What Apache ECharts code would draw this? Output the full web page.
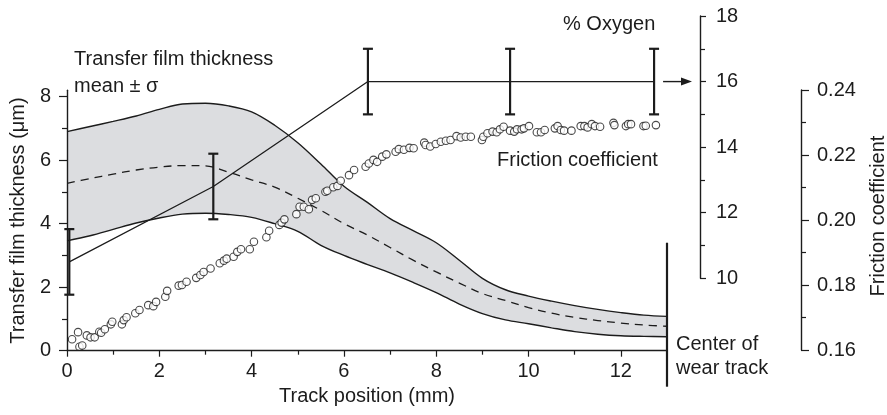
<!DOCTYPE html>
<html>
<head>
<meta charset="utf-8">
<script src="https://cdn.jsdelivr.net/npm/echarts@6/dist/echarts.min.js"></script>
<style>
  html, body { margin: 0; padding: 0; background: #fff; }
  #chart { width: 887px; height: 415px; }
</style>
</head>
<body>
<div id="chart"></div>
<script>
// Transfer film thickness profile across the track (mean and ±σ envelope)
const trackPos   = [0, 0.5, 1, 1.5, 2, 2.5, 3, 3.5, 4, 4.5, 5, 5.5, 6, 6.5, 7, 7.5, 8, 8.5, 9, 9.5, 10, 10.5, 11, 11.5, 12, 12.5, 13];
const filmUpper  = [6.90, 7.06, 7.22, 7.39, 7.60, 7.77, 7.79, 7.71, 7.52, 7.10, 6.55, 5.88, 5.18, 4.68, 4.16, 3.78, 3.40, 2.85, 2.28, 1.92, 1.72, 1.56, 1.42, 1.30, 1.20, 1.12, 1.08];
const filmMean   = [5.27, 5.42, 5.56, 5.69, 5.78, 5.83, 5.82, 5.62, 5.38, 5.15, 4.80, 4.42, 4.00, 3.65, 3.25, 2.85, 2.48, 2.13, 1.80, 1.58, 1.36, 1.18, 1.05, 0.95, 0.87, 0.81, 0.77];
const filmLower  = [3.46, 3.62, 3.82, 4.02, 4.18, 4.30, 4.33, 4.29, 4.20, 4.00, 3.76, 3.32, 3.00, 2.72, 2.45, 2.15, 1.83, 1.47, 1.17, 0.97, 0.85, 0.72, 0.60, 0.52, 0.47, 0.45, 0.44];

// Friction coefficient measured along the track
const frictionPos = [0.11, 0.24, 0.27, 0.33, 0.43, 0.51, 0.60, 0.70, 0.74, 0.82, 0.95, 0.98, 1.19, 1.23, 1.29, 1.48, 1.57, 1.76, 1.87, 1.93,
  2.13, 2.17, 2.42, 2.49, 2.59, 2.80, 2.89, 2.96, 3.11, 3.31, 3.40, 3.46, 3.61, 3.69, 3.77, 3.96, 4.05, 4.32, 4.38, 4.60,
  4.65, 4.71, 4.97, 5.04, 5.13, 5.24, 5.31, 5.39, 5.60, 5.64, 5.77, 5.86, 5.93, 6.11, 6.22, 6.47, 6.54, 6.64, 6.72, 6.83,
  6.92, 7.12, 7.19, 7.30, 7.42, 7.51, 7.74, 7.77, 7.87, 7.99, 8.10, 8.21, 8.31, 8.44, 8.53, 8.64, 8.75, 8.99, 9.02, 9.11,
  9.22, 9.31, 9.38, 9.46, 9.60, 9.69, 9.75, 9.85, 9.90, 10.01, 10.18, 10.27, 10.35, 10.57, 10.63, 10.70, 10.77, 10.93, 11.13, 11.21,
  11.28, 11.37, 11.44, 11.55, 11.84, 11.86, 12.11, 12.16, 12.22, 12.49, 12.54, 12.76];
const frictionCoef = [0.1633, 0.1655, 0.1610, 0.1614, 0.1645, 0.1639, 0.1639, 0.1656, 0.1653, 0.1664, 0.1679, 0.1687, 0.1679, 0.1692, 0.1701, 0.1713, 0.1723, 0.1738, 0.1735, 0.1748,
  0.1764, 0.1782, 0.1798, 0.1800, 0.1810, 0.1822, 0.1831, 0.1840, 0.1851, 0.1867, 0.1875, 0.1881, 0.1887, 0.1902, 0.1910, 0.1910, 0.1933, 0.1947, 0.1967, 0.1985,
  0.1992, 0.2002, 0.2018, 0.2041, 0.2041, 0.2033, 0.2062, 0.2067, 0.2087, 0.2090, 0.2101, 0.2105, 0.2121, 0.2138, 0.2154, 0.2164, 0.2174, 0.2185, 0.2179, 0.2195,
  0.2202, 0.2210, 0.2218, 0.2216, 0.2222, 0.2221, 0.2238, 0.2231, 0.2226, 0.2234, 0.2241, 0.2244, 0.2246, 0.2258, 0.2254, 0.2256, 0.2256, 0.2246, 0.2256, 0.2267,
  0.2272, 0.2270, 0.2279, 0.2287, 0.2275, 0.2272, 0.2279, 0.2279, 0.2282, 0.2289, 0.2270, 0.2270, 0.2277, 0.2282, 0.2289, 0.2277, 0.2275, 0.2275, 0.2289, 0.2289,
  0.2285, 0.2295, 0.2289, 0.2287, 0.2299, 0.2292, 0.2289, 0.2295, 0.2295, 0.2289, 0.2290, 0.2292];

// Oxygen content (mean ± 1 sd) at five positions
const oxygenPos = [0.05, 3.17, 6.52, 9.60, 12.72];
const oxygenPct = [10.5, 12.8, 16, 16, 16];
const oxygenSd  = [1, 1, 1, 1, 1];

// Axis tick values
const trackTicks     = [0, 2, 4, 6, 8, 10, 12];
const trackMinor     = [1, 3, 5, 7, 9, 11];
const thicknessTicks = [0, 2, 4, 6, 8];
const thicknessMinor = [1, 3, 5, 7];
const oxygenTicks    = [10, 12, 14, 16, 18];
const frictionTicks  = [0.16, 0.18, 0.20, 0.22, 0.24];

const FONT = '"Liberation Sans", Arial, Helvetica, sans-serif';
const INK = '#1c1c1c';
const txt = { fontFamily: FONT, fontSize: 20, color: INK };
const tickLine = { color: INK, width: 1.2 };

const chart = echarts.init(document.getElementById('chart'), null, { renderer: 'canvas' });

const hiddenX = (grid) => ({
  type: 'value', gridIndex: grid, min: 0, max: 13, show: false
});

const option = {
  animation: false,
  backgroundColor: '#fff',
  textStyle: { fontFamily: FONT },
  grid: [
    { left: 67, width: 600, top: 90.3, bottom: 64.3 },   // film thickness
    { left: 67, width: 600, top: 90, bottom: 65 },       // friction coefficient
    { left: 67, width: 600, top: 16, bottom: 136.7 }     // oxygen
  ],
  xAxis: [
    {
      type: 'value', gridIndex: 0, min: 0, max: 13, z: 10,
      name: 'Track position (mm)', nameLocation: 'middle', nameGap: 36,
      nameTextStyle: txt,
      axisLine: { lineStyle: { color: INK, width: 1.4 } },
      axisTick: { customValues: trackTicks, length: 6, lineStyle: tickLine },
      axisLabel: { customValues: trackTicks, margin: 11, ...txt },
      splitLine: { show: false }
    },
    {
      type: 'value', gridIndex: 0, min: 0, max: 13, position: 'bottom', z: 10,
      axisLine: { show: false },
      axisTick: { customValues: trackMinor, length: 4, lineStyle: tickLine },
      axisLabel: { show: false },
      splitLine: { show: false }
    },
    hiddenX(1),
    hiddenX(2)
  ],
  yAxis: [
    {
      type: 'value', gridIndex: 0, min: 0, max: 8.2, position: 'left', z: 10,
      name: 'Transfer film thickness (μm)', nameLocation: 'middle', nameGap: 38,
      nameTextStyle: txt,
      axisLine: { show: true, onZero: false, lineStyle: { color: INK, width: 1.4 } },
      axisTick: { show: true, customValues: thicknessTicks, length: 8, lineStyle: tickLine },
      axisLabel: { customValues: thicknessTicks, margin: 16, ...txt },
      splitLine: { show: false }
    },
    {
      type: 'value', gridIndex: 0, min: 0, max: 8.2, position: 'left', z: 10,
      axisLine: { show: false, onZero: false },
      axisTick: { show: true, customValues: thicknessMinor, length: 5, lineStyle: tickLine },
      axisLabel: { show: false },
      splitLine: { show: false }
    },
    {
      type: 'value', gridIndex: 1, min: 0.16, max: 0.24, interval: 0.02, position: 'right', offset: 134, z: 10,
      axisLine: { show: true, onZero: false, lineStyle: { color: INK, width: 1.4 } },
      axisTick: { show: true, customValues: frictionTicks, length: 8, lineStyle: tickLine },
      minorTick: { show: true, splitNumber: 2, length: 5, lineStyle: tickLine },
      axisLabel: { customValues: frictionTicks, margin: 16, formatter: v => v.toFixed(2), ...txt },
      splitLine: { show: false }
    },
    {
      type: 'value', gridIndex: 2, min: 10, max: 18, interval: 2, position: 'right', offset: 33, z: 10,
      axisLine: { show: true, onZero: false, lineStyle: { color: INK, width: 1.4 } },
      axisTick: { show: true, customValues: oxygenTicks, length: 6, lineStyle: tickLine },
      minorTick: { show: true, splitNumber: 2, length: 5, lineStyle: tickLine },
      axisLabel: { customValues: oxygenTicks, margin: 16, ...txt },
      splitLine: { show: false }
    }
  ],
  series: [
    {
      // upper envelope, grey down to the axis
      name: 'upper', type: 'line', xAxisIndex: 0, yAxisIndex: 0,
      smooth: 0.35, symbol: 'none', z: 1,
      data: trackPos.map((x, i) => [x, filmUpper[i]]),
      lineStyle: { color: INK, width: 1.4 },
      areaStyle: { color: '#dcdde0', opacity: 1, origin: 'start' }
    },
    {
      // lower envelope, white below it so only the ±σ band stays grey
      name: 'lower', type: 'line', xAxisIndex: 0, yAxisIndex: 0,
      smooth: 0.35, symbol: 'none', z: 1,
      data: trackPos.map((x, i) => [x, filmLower[i]]),
      lineStyle: { color: INK, width: 1.4 },
      areaStyle: { color: '#ffffff', opacity: 1, origin: 'start' }
    },
    {
      name: 'mean', type: 'line', xAxisIndex: 0, yAxisIndex: 0,
      smooth: 0.35, symbol: 'none', z: 2,
      data: trackPos.map((x, i) => [x, filmMean[i]]),
      lineStyle: { color: INK, width: 1.3, type: [8, 6] }
    },
    {
      name: 'oxygen', type: 'line', xAxisIndex: 3, yAxisIndex: 3,
      symbol: 'none', z: 3,
      data: oxygenPos.map((x, i) => [x, oxygenPct[i]]),
      lineStyle: { color: INK, width: 1.3 }
    },
    {
      name: 'oxygen sd', type: 'custom', xAxisIndex: 3, yAxisIndex: 3, z: 4,
      data: oxygenPos.map((x, i) => [x, oxygenPct[i], oxygenSd[i]]),
      renderItem: (params, api) => {
        const x = api.value(0), m = api.value(1), s = api.value(2);
        const top = api.coord([x, m + s]);
        const bot = api.coord([x, m - s]);
        const hw = 5;
        const st = { stroke: INK, lineWidth: 2.2 };
        return {
          type: 'group',
          children: [
            { type: 'line', shape: { x1: top[0], y1: top[1], x2: bot[0], y2: bot[1] }, style: st },
            { type: 'line', shape: { x1: top[0] - hw, y1: top[1], x2: top[0] + hw, y2: top[1] }, style: st },
            { type: 'line', shape: { x1: bot[0] - hw, y1: bot[1], x2: bot[0] + hw, y2: bot[1] }, style: st }
          ]
        };
      }
    },
    {
      name: 'friction', type: 'scatter', xAxisIndex: 2, yAxisIndex: 2, z: 5,
      symbol: 'circle', symbolSize: 7.5,
      data: frictionPos.map((x, i) => [x, frictionCoef[i]]),
      itemStyle: { color: '#fff', borderColor: INK, borderWidth: 1.1 }
    }
  ]
};

chart.setOption(option);

// Annotations placed from the axes' own pixel mapping
const wearX = chart.convertToPixel({ xAxisIndex: 0 }, 13);
const baseY = chart.convertToPixel({ yAxisIndex: 0 }, 0);
const wearTop = chart.convertToPixel({ yAxisIndex: 0 }, 3.4);
const o2Y = chart.convertToPixel({ yAxisIndex: 3 }, 16);
const lastBarX = chart.convertToPixel({ xAxisIndex: 3 }, oxygenPos[oxygenPos.length - 1]);
const o2AxisX = wearX + 33;
const frAxisX = wearX + 134;
const frMidY = (chart.convertToPixel({ yAxisIndex: 2 }, 0.16) + chart.convertToPixel({ yAxisIndex: 2 }, 0.24)) / 2;
const arrowStart = lastBarX + 9;
const arrowTip = o2AxisX - 8;

chart.setOption({
  graphic: [
    { type: 'line', shape: { x1: wearX, y1: wearTop, x2: wearX, y2: baseY + 36 },
      style: { stroke: INK, lineWidth: 2.2 }, z: 10 },
    { type: 'line', shape: { x1: arrowStart, y1: o2Y, x2: arrowTip - 8, y2: o2Y },
      style: { stroke: INK, lineWidth: 1.4 }, z: 10 },
    { type: 'polygon', shape: { points: [[arrowTip, o2Y], [arrowTip - 11, o2Y - 4], [arrowTip - 11, o2Y + 4]] },
      style: { fill: INK }, z: 10 },
    // right-hand axis title, reading upward
    { type: 'text', x: frAxisX + 77, y: frMidY - 4, rotation: Math.PI / 2, z: 10,
      style: { text: 'Friction coefficient', font: '20px ' + FONT, fill: INK, align: 'center', verticalAlign: 'middle' } },
    { type: 'text', left: 74, top: 49, z: 10,
      style: { text: 'Transfer film thickness', font: '20px ' + FONT, fill: INK } },
    { type: 'text', left: 74, top: 76, z: 10,
      style: { text: 'mean ± σ', font: '20px ' + FONT, fill: INK } },
    { type: 'text', left: 563, top: 14, z: 10,
      style: { text: '% Oxygen', font: '20px ' + FONT, fill: INK } },
    { type: 'text', left: 497, top: 150, z: 10,
      style: { text: 'Friction coefficient', font: '20px ' + FONT, fill: INK } },
    { type: 'text', left: 676, top: 334, z: 10,
      style: { text: 'Center of', font: '20px ' + FONT, fill: INK } },
    { type: 'text', left: 676, top: 358, z: 10,
      style: { text: 'wear track', font: '20px ' + FONT, fill: INK } }
  ]
});
</script>
</body>
</html>
